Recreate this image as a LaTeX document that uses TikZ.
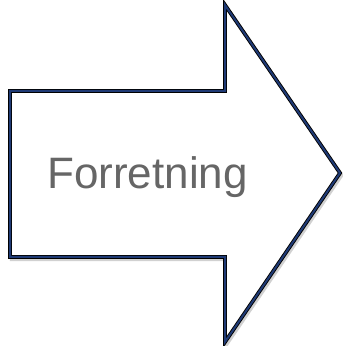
\documentclass[tikz,border=0pt]{standalone}
\usepackage{fontspec}
\setmainfont{Liberation Sans}
\definecolor{navy}{HTML}{1F3A75}
\definecolor{txtgray}{HTML}{666666}
\tikzset{
  outlineblack/.style={draw=black, line width=3.8pt, line join=miter},
  outlinenavy/.style={draw=navy, line width=2pt, line join=miter},
  shadowline/.style={draw=black!18, line width=3.5pt, line join=miter},
  label/.style={text=txtgray, font=\fontsize{44}{50}\selectfont, anchor=base, inner sep=0pt}
}
\begin{document}
\begin{tikzpicture}[x=1pt,y=1pt]
\useasboundingbox (0,0) rectangle (343,346);
\fill[white] (0,0) rectangle (343,346);
\coordinate (a) at (10,255);
\coordinate (b) at (225,255);
\coordinate (c) at (225,341);
\coordinate (d) at (340,173);
\coordinate (e) at (225,4);
\coordinate (f) at (225,89);
\coordinate (g) at (10,89);
\draw[shadowline, transform canvas={shift={(1.5pt,-2.5pt)}}] (a) -- (b) -- (c) -- (d) -- (e) -- (f) -- (g) -- cycle;
\fill[white] (a) -- (b) -- (c) -- (d) -- (e) -- (f) -- (g) -- cycle;
\draw[outlineblack] (a) -- (b) -- (c) -- (d) -- (e) -- (f) -- (g) -- cycle;
\draw[outlinenavy] (a) -- (b) -- (c) -- (d) -- (e) -- (f) -- (g) -- cycle;
\node[label] (t) at (147.5,157) {Forretning};
\end{tikzpicture}
\end{document}
